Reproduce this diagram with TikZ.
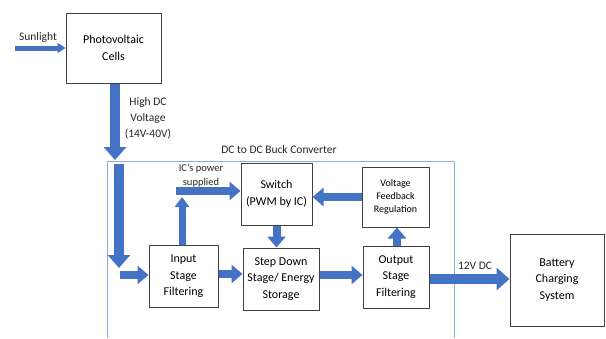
\documentclass[tikz,border=0pt]{standalone}
\usepackage{fontspec}
\setmainfont{Carlito}
\usetikzlibrary{arrows.meta}
\definecolor{arrowblue}{HTML}{4472C4}
\definecolor{framecol}{HTML}{8FAADC}
\definecolor{boxcol}{HTML}{404040}
\tikzset{
  blk/.style={draw=boxcol, line width=1pt, fill=white, align=center, inner sep=1pt,
    font=\fontsize{12}{16.5}\selectfont},
  lbl/.style={align=center, inner sep=0pt, font=\fontsize{11.5}{16}\selectfont, text=black!85},
  bigarrow/.style={draw=arrowblue, line width=10pt, -{Triangle[width=22pt,length=13pt]}},
  midarrow/.style={draw=arrowblue, line width=8pt, -{Triangle[width=18pt,length=11pt]}},
  smallarrow/.style={draw=arrowblue, line width=5pt, -{Triangle[width=10pt,length=8pt]}},
}
\begin{document}
\begin{tikzpicture}[x=1pt,y=-1pt]
\useasboundingbox (0,0) rectangle (606,338);
% converter frame
\draw[framecol, line width=1pt] (107,338) |- (454,161) -- (454,338);
% boxes
\node[blk, minimum width=95pt, minimum height=70pt] (pv) at (113.5,48) {Photovoltaic\\Cells};
\node[blk, minimum width=69pt, minimum height=62pt] (input) at (183.5,276.5) {Input\\Stage\\Filtering};
\node[blk, minimum width=71pt, minimum height=62pt] (switch) at (276.5,194) {Switch\\(PWM by IC)};
\node[blk, minimum width=76pt, minimum height=62pt] (step) at (281,279) {Step Down\\Stage/ Energy\\Storage};
\node[blk, minimum width=66pt, minimum height=62pt] (output) at (396,277) {Output\\Stage\\Filtering};
\node[blk, minimum width=67pt, minimum height=60pt, font=\fontsize{10}{13.3}\selectfont] (fb) at (395.5,197) {Voltage\\Feedback\\Regulation};
\node[blk, minimum width=94pt, minimum height=92pt] (bat) at (557,280) {Battery\\Charging\\System};
% labels
\node[lbl] (sunl) at (38,37) {Sunlight};
\node[lbl] (hdc) at (148,118) {High DC\\Voltage\\(14V-40V)};
\node[lbl] (conv) at (279,150) {DC to DC Buck Converter};
\node[lbl, font=\fontsize{10.5}{14}\selectfont] (icp) at (201,176) {IC's power\\supplied};
\node[lbl] (v12) at (475,266) {12V DC};
% coordinates
\coordinate (sun) at (15,48);
\coordinate (pvend) at (115,160);
\coordinate (in1) at (119,164);
\coordinate (in2) at (119,268);
\coordinate (in3) at (120,275);
\coordinate (icup) at (182,197);
\coordinate (icl) at (176,191);
\coordinate (ys) at (0,274);
\coordinate (yo) at (0,275);
\coordinate (xf) at (397,0);
\coordinate (yb) at (0,279);
% connectors
\draw[smallarrow] (sun) -- (pv.west);
\draw[bigarrow] (pv.south -| pvend) -- (pvend);
\draw[bigarrow] (in1) -- (in2);
\draw[midarrow] (in3) -- (input.west |- in3);
\draw[midarrow, -{Triangle[width=14pt,length=10pt]}, line width=7pt] (input.north -| icup) -- (icup);
\draw[midarrow] (icl) -- (switch.west |- icl);
\draw[midarrow] (switch.south) -- (switch.south |- step.north);
\draw[midarrow] (input.east |- ys) -- (step.west |- ys);
\draw[midarrow] (step.east |- yo) -- (output.west |- yo);
\draw[midarrow] (output.north -| xf) -- (fb.south -| xf);
\draw[midarrow] (fb.west) -- (switch.east |- fb.west);
\draw[bigarrow] (output.east |- yb) -- (bat.west |- yb);
\end{tikzpicture}
\end{document}
